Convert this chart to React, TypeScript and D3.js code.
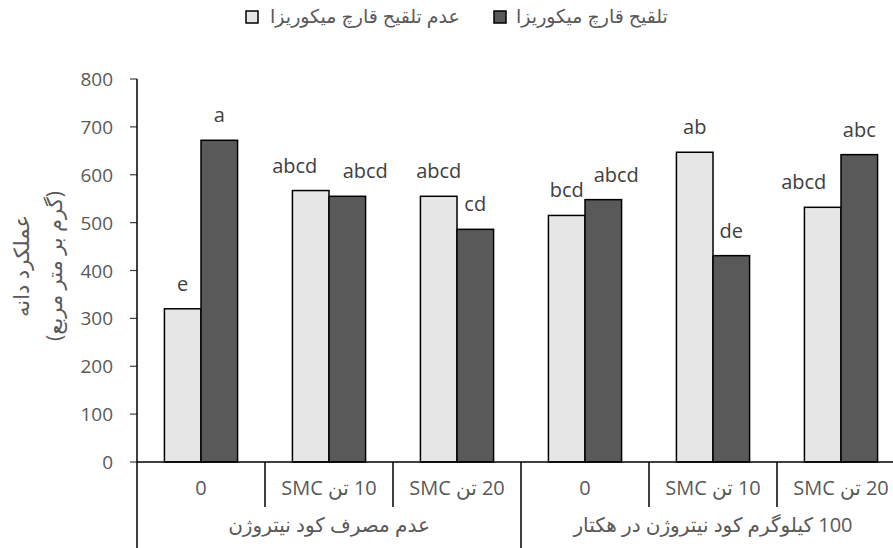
import React from "react";
import * as d3 from "d3";

const categories = ["0", "10 تن SMC", "20 تن SMC", "0", "10 تن SMC", "20 تن SMC"];
const groups = ["عدم مصرف کود نیتروژن", "100 کیلوگرم کود نیتروژن در هکتار"];
const groupSizes = [3, 3];
const seriesNames = ["عدم تلقیح قارچ میکوریزا", "تلقیح قارچ میکوریزا"];
const controlValues = [320, 567, 555, 515, 647, 532];
const inoculatedValues = [672, 555, 486, 548, 431, 642];
const controlLetters = ["e", "abcd", "abcd", "bcd", "ab", "abcd"];
const inoculatedLetters = ["a", "abcd", "cd", "abcd", "de", "abc"];
const controlLabelShift = [0, -16, 0, 0, 0, -19];
const inoculatedLabelShift = [0, 18, 0, 13, 0, 0];
const yTicks = [0, 100, 200, 300, 400, 500, 600, 700, 800];
const yTitle = ["عملکرد دانه", "(گرم بر متر مربع)"];

const W = 893;
const H = 548;
const left = 137;
const catStep = 128;
const top = 79;
const bottom = 462;
const seriesColors = ["#e6e6e6", "#595959"];
const FONT = "'Open Sans', 'DejaVu Sans', sans-serif";
const TXT = "#595959";

export default function App() {
  const x = d3
    .scaleBand<number>()
    .domain(categories.map((_, i) => i))
    .range([left, left + catStep * categories.length])
    .paddingInner(0)
    .paddingOuter(0);
  const inner = d3.scaleBand<number>().domain([0, 1]).range([0, x.bandwidth()]).paddingOuter(0.75).paddingInner(0);
  const y = d3.scaleLinear().domain([0, 800]).range([bottom, top]);
  const series = [
    { values: controlValues, letters: controlLetters, shift: controlLabelShift },
    { values: inoculatedValues, letters: inoculatedLetters, shift: inoculatedLabelShift },
  ];
  const right = left + catStep * categories.length;

  let acc = 0;
  const groupBounds = groupSizes.map((s) => {
    const a = acc;
    acc += s;
    return [x(a) as number, (x(acc - 1) as number) + x.bandwidth()];
  });

  return (
    <svg width={W} height={H} style={{ position: "absolute", left: 0, top: 0, background: "#fff" }} fontFamily={FONT}>
      {/* legend */}
      <g>
        <rect x={246} y={11} width={12} height={12} fill={seriesColors[0]} stroke="#000" strokeWidth={1.5} />
        <text x={365} y={23} fontSize={19} fill={TXT} textAnchor="middle" direction="rtl">
          {seriesNames[0]}
        </text>
        <rect x={494} y={11} width={12} height={12} fill={seriesColors[1]} stroke="#000" strokeWidth={1.5} />
        <text x={592} y={23} fontSize={19} fill={TXT} textAnchor="middle" direction="rtl">
          {seriesNames[1]}
        </text>
      </g>

      {/* y ticks */}
      {yTicks.map((t) => (
        <g key={t}>
          <line x1={left - 7} x2={left} y1={y(t)} y2={y(t)} stroke="#404040" strokeWidth={1.2} />
          <text x={113} y={y(t) + 7} fontSize={19} fill={TXT} textAnchor="end">
            {t}
          </text>
        </g>
      ))}

      {/* bars */}
      {series.map((s, si) =>
        s.values.map((v, i) => {
          const bx = (x(i) as number) + (inner(si) as number);
          return (
            <rect
              key={`${si}-${i}`}
              x={bx}
              y={y(v)}
              width={inner.bandwidth()}
              height={y(0) - y(v)}
              fill={seriesColors[si]}
              stroke="#000"
              strokeWidth={1.5}
            />
          );
        })
      )}

      {/* bar labels */}
      {series.map((s, si) =>
        s.values.map((v, i) => {
          const cx = (x(i) as number) + (inner(si) as number) + inner.bandwidth() / 2 + s.shift[i];
          return (
            <text key={`l${si}-${i}`} x={cx} y={y(v) - 18} fontSize={20} fill="#404040" textAnchor="middle">
              {s.letters[i]}
            </text>
          );
        })
      )}

      {/* axes */}
      <line x1={left} x2={left} y1={top} y2={H} stroke="#000" strokeWidth={1.5} />
      <line x1={left} x2={right} y1={bottom} y2={bottom} stroke="#000" strokeWidth={1.5} />
      {categories.map((_, i) =>
        i === 0 ? null : (
          <line
            key={`d${i}`}
            x1={x(i) as number}
            x2={x(i) as number}
            y1={bottom}
            y2={i === groupSizes[0] ? H : 507}
            stroke="#000"
            strokeWidth={1.5}
          />
        )
      )}

      {/* category labels */}
      {categories.map((c, i) => (
        <text
          key={`c${i}`}
          x={(x(i) as number) + x.bandwidth() / 2}
          y={495}
          fontSize={20}
          fill={TXT}
          textAnchor="middle"
          direction="rtl"
        >
          {c}
        </text>
      ))}
      {groups.map((g, gi) => (
        <text
          key={`g${gi}`}
          x={(groupBounds[gi][0] + groupBounds[gi][1]) / 2}
          y={532}
          fontSize={20}
          fill={TXT}
          textAnchor="middle"
          direction="rtl"
        >
          {g}
        </text>
      ))}

      {/* y title */}
      {yTitle.map((t, i) => (
        <text
          key={`yt${i}`}
          transform={`translate(${i === 0 ? 29 : 62},${266}) rotate(-90)`}
          fontSize={21}
          fill={TXT}
          textAnchor="middle"
          direction="rtl"
        >
          {t}
        </text>
      ))}
    </svg>
  );
}
